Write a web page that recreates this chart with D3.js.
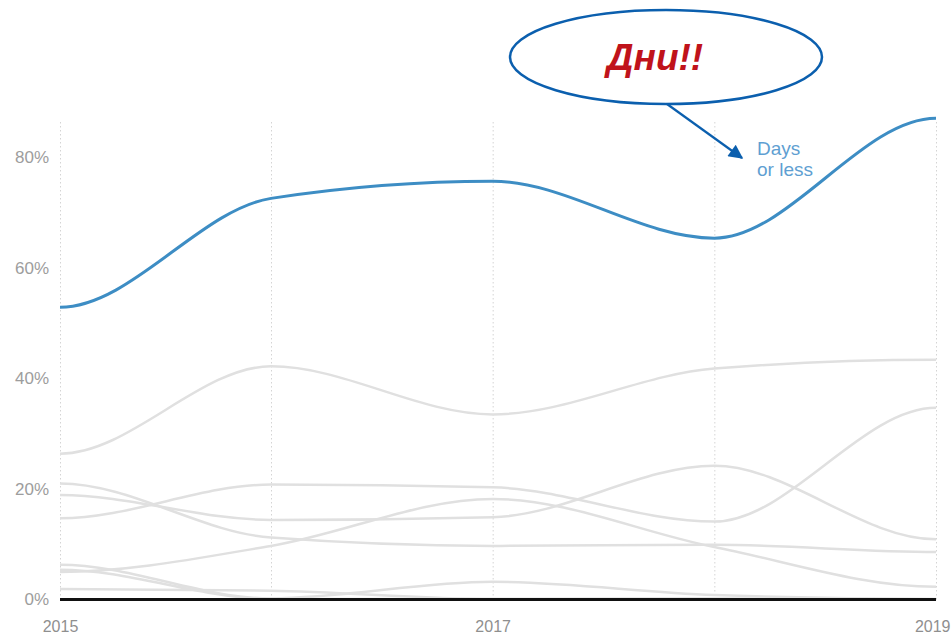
<!DOCTYPE html>
<html>
<head>
<meta charset="utf-8">
<script src="https://cdn.jsdelivr.net/npm/d3@7"></script>
<style>
  html, body { margin: 0; padding: 0; background: #fff; }
  svg { display: block; font-family: "Liberation Sans", Arial, sans-serif; }
</style>
</head>
<body>
<div id="chart"></div>
<script>
// Data
const years = [2015, 2016, 2017, 2018, 2019];
const yTicks = [0, 20, 40, 60, 80];
const xLabelYears = [2015, 2017, 2019];

// highlighted series (percent)
const daysOrLess = [52.9, 72.6, 75.7, 65.4, 87.1];

// other series, drawn in grey
const grey1 = [26.4, 42.2, 33.5, 41.8, 43.4];
const grey2 = [21.0, 11.2, 9.7, 9.9, 8.6];
const grey3 = [18.9, 14.4, 14.9, 24.2, 10.9];
const grey4 = [14.7, 20.8, 20.3, 14.1, 34.7];
const grey5 = [5.0, 9.7, 18.2, 9.5, 2.3];
const grey6 = [6.3, 0.2, 3.2, 0.8, 0.1];
const grey7 = [5.4, 0.1, 0.1, 0.2, 0.0];
const grey8 = [1.9, 1.6, 0.1, 0.1, 0.0];
const greySeries = [grey1, grey2, grey3, grey4, grey5, grey6, grey7, grey8];

const highlightLabel = ["Days", "or less"];
const calloutText = "Дни!!";

// Dimensions
const dimensions = { width: 951, height: 637, left: 60, right: 936, top: 122, bottom: 599.5 };

const svg = d3.select("#chart")
  .append("svg")
  .attr("width", dimensions.width)
  .attr("height", dimensions.height);

// Scales (first year sits a little closer to the next one)
const xScale = d3.scaleLinear().domain([2015, 2016, 2019]).range([dimensions.left, 271, dimensions.right]);
const yScale = d3.scaleLinear().domain([0, 80]).range([dimensions.bottom, 157.5]);

// monotone interior tangents, flat at both ends
function curveSmooth(context) {
  let pts;
  return {
    areaStart() {}, areaEnd() {},
    lineStart() { pts = []; },
    point(x, y) { pts.push([+x, +y]); },
    lineEnd() {
      const n = pts.length;
      const m = new Array(n).fill(0);
      for (let i = 1; i < n - 1; i++) {
        const h0 = pts[i][0] - pts[i - 1][0], h1 = pts[i + 1][0] - pts[i][0];
        const s0 = (pts[i][1] - pts[i - 1][1]) / h0, s1 = (pts[i + 1][1] - pts[i][1]) / h1;
        const p = (s0 * h1 + s1 * h0) / (h0 + h1);
        m[i] = (Math.sign(s0) + Math.sign(s1)) * Math.min(Math.abs(s0), Math.abs(s1), 0.5 * Math.abs(p)) || 0;
      }
      context.moveTo(pts[0][0], pts[0][1]);
      for (let i = 1; i < n; i++) {
        const dx = (pts[i][0] - pts[i - 1][0]) / 3;
        context.bezierCurveTo(
          pts[i - 1][0] + dx, pts[i - 1][1] + dx * m[i - 1],
          pts[i][0] - dx, pts[i][1] - dx * m[i],
          pts[i][0], pts[i][1]);
      }
    }
  };
}

const lineGenerator = d3.line()
  .x((d, i) => xScale(years[i]))
  .y((d) => yScale(d))
  .curve(curveSmooth);

// Grid (dotted verticals)
svg.append("g")
  .attr("transform", `translate(0, ${dimensions.bottom})`)
  .call(d3.axisBottom(xScale).tickValues(years).tickSize(-(dimensions.bottom - dimensions.top)).tickFormat(""))
  .call((g) => g.select(".domain").remove())
  .call((g) => g.selectAll("line").attr("stroke", "#d4d4d4").attr("stroke-dasharray", "1.5,2.5"));

// Y axis labels
svg.append("g")
  .attr("transform", `translate(${dimensions.left}, 0)`)
  .call(d3.axisLeft(yScale).tickValues(yTicks).tickSize(0).tickPadding(11).tickFormat((d) => `${d}%`))
  .call((g) => g.select(".domain").remove())
  .call((g) => g.selectAll("text")
    .attr("fill", "#9d9d9d")
    .style("font-size", "17px")
    .style("font-family", "'Liberation Sans', Arial, sans-serif"));

// X axis labels
svg.append("g")
  .attr("transform", `translate(0, ${dimensions.bottom})`)
  .call(d3.axisBottom(xScale).tickValues(xLabelYears).tickSize(0).tickPadding(21).tickFormat(d3.format("d")))
  .call((g) => g.select(".domain").remove())
  .call((g) => g.selectAll("text")
    .attr("fill", "#8f8f8f")
    .style("font-size", "16px")
    .style("font-family", "'Liberation Sans', Arial, sans-serif"))
  .call((g) => g.selectAll(".tick").filter((d) => d === 2019).select("text").attr("text-anchor", "end").attr("dx", 14));

// Grey lines
svg.append("g")
  .selectAll("path")
  .data(greySeries)
  .join("path")
  .attr("d", lineGenerator)
  .attr("fill", "none")
  .attr("stroke", "#e0e0e0")
  .attr("stroke-width", 2.5);

// Baseline
svg.append("line")
  .attr("x1", xScale(2015))
  .attr("x2", xScale(2019))
  .attr("y1", yScale(0))
  .attr("y2", yScale(0))
  .attr("stroke", "#111")
  .attr("stroke-width", 3);

// Highlighted line
svg.append("path")
  .datum(daysOrLess)
  .attr("d", lineGenerator)
  .attr("fill", "none")
  .attr("stroke", "#3d8dc4")
  .attr("stroke-width", 3);

svg.append("text")
  .attr("x", 757)
  .attr("y", 155)
  .attr("fill", "#5f9fd2")
  .style("font-size", "19px")
  .selectAll("tspan")
  .data(highlightLabel)
  .join("tspan")
  .attr("x", 757)
  .attr("dy", (d, i) => (i === 0 ? 0 : 21))
  .text((d) => d);

// Callout
const defs = svg.append("defs");
defs.append("marker")
  .attr("id", "arrow")
  .attr("viewBox", "0 0 10 10")
  .attr("refX", 9)
  .attr("refY", 5)
  .attr("markerWidth", 7.5)
  .attr("markerHeight", 6.5)
  .attr("markerUnits", "strokeWidth")
  .attr("orient", "auto")
  .append("path")
  .attr("d", "M0,0 L10,5 L0,10 Z")
  .attr("fill", "#0b5fae");

svg.append("line")
  .attr("x1", 667)
  .attr("y1", 104)
  .attr("x2", 742)
  .attr("y2", 158)
  .attr("stroke", "#0b5fae")
  .attr("stroke-width", 2.2)
  .attr("marker-end", "url(#arrow)");

svg.append("ellipse")
  .attr("cx", 666)
  .attr("cy", 57)
  .attr("rx", 156)
  .attr("ry", 47)
  .attr("fill", "#fff")
  .attr("stroke", "#0b5fae")
  .attr("stroke-width", 2.5);

svg.append("text")
  .attr("x", 655)
  .attr("y", 70)
  .attr("text-anchor", "middle")
  .attr("fill", "#c0131b")
  .style("font-size", "37px")
  .style("font-weight", "bold")
  .style("font-style", "italic")
  .text(calloutText);
</script>
</body>
</html>
